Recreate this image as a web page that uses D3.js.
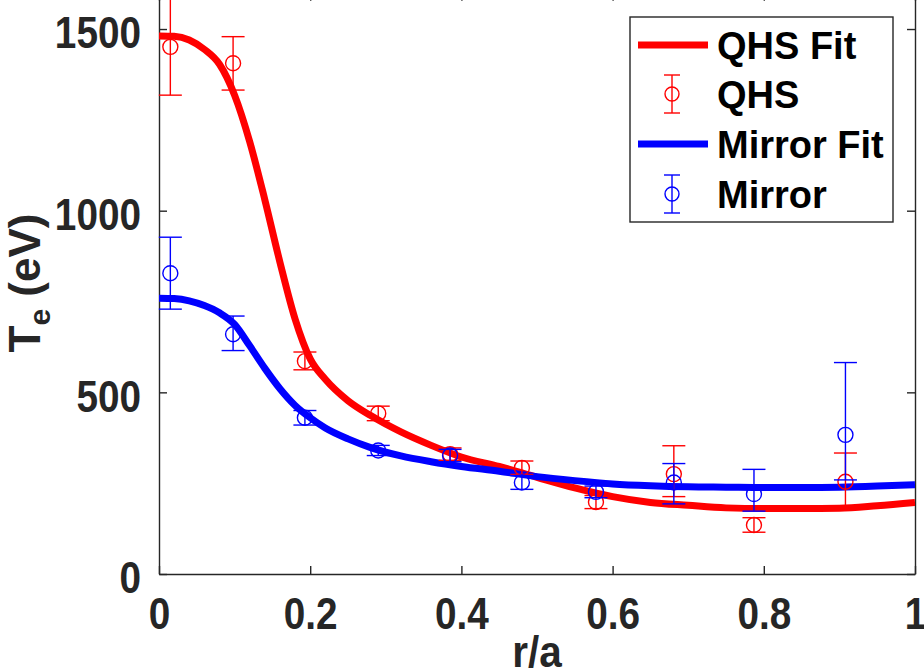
<!DOCTYPE html>
<html>
<head>
<meta charset="utf-8">
<script src="https://cdn.jsdelivr.net/npm/d3@7"></script>
<style>
  html, body { margin: 0; padding: 0; background: #fff; }
  svg { display: block; }
  text { font-family: "Liberation Sans", Arial, Helvetica, sans-serif; font-weight: bold; }
</style>
</head>
<body>
<svg id="chart" width="924" height="671"></svg>
<script>
// ---- data ----
const pointR = [0.015, 0.098, 0.193, 0.29, 0.385, 0.48, 0.578, 0.681, 0.787, 0.908];

const qhsValue = [1451, 1406, 586, 442, 330, 292, 198, 275, 135, 254];
const qhsLow   = [1318, 1332, 562, 422, 313, 274, 180, 213, 115, 178];
const qhsHigh  = [1590, 1479, 611, 462, 347, 311, 216, 353, 155, 333];

const mirrorValue = [828, 660, 430, 340, 326, 252, 226, 252, 220, 383];
const mirrorLow   = [729, 615, 410, 326, 309, 233, 210, 193, 173, 259];
const mirrorHigh  = [927, 710, 450, 354, 343, 271, 242, 304, 288, 582];

const fitR = [0, 0.02, 0.04, 0.06, 0.08, 0.10, 0.12, 0.14, 0.16, 0.18, 0.20, 0.22, 0.25, 0.28,
              0.32, 0.36, 0.40, 0.45, 0.50, 0.55, 0.60, 0.65, 0.70, 0.75, 0.80, 0.85, 0.90, 0.95, 1.0];
const qhsFit = [1481, 1480, 1470, 1444, 1403, 1318, 1190, 1030, 858, 702, 592, 536, 477, 436,
                391, 354, 322, 296, 266, 237, 213, 197, 189, 182, 180, 180, 181, 188, 197];
const mirrorFit = [759, 758, 752, 739, 719, 687, 628, 566, 510, 464, 430, 402, 372, 348,
                   325, 309, 296, 283, 268, 257, 248, 243, 240, 239, 238, 238, 239, 242, 246];

const xTicks = [0, 0.2, 0.4, 0.6, 0.8, 1];
const yTicks = [0, 500, 1000, 1500];
const legendLabels = ["QHS Fit", "QHS", "Mirror Fit", "Mirror"];

// ---- layout ----
const L = 159, R = 915, B = 574, T = -7.3;
const axisColor = "#262626";
const red = "#ff0000", blue = "#0000ff";
const squeeze = 0.88;

const svg = d3.select("#chart");
const x = d3.scaleLinear().domain([0, 1]).range([L, R]);
const y = d3.scaleLinear().domain([0, 1600]).range([B, T]);

svg.append("defs").append("clipPath").attr("id", "plotclip")
  .append("rect").attr("x", L).attr("y", T).attr("width", R - L).attr("height", B - T);

// axes (MATLAB box style, ticks inward)
const gx = svg.append("g").attr("transform", `translate(0,${B})`)
  .call(d3.axisBottom(x).tickValues(xTicks).tickSizeInner(-8).tickSizeOuter(0).tickPadding(24)
        .tickFormat(d => d === 0 ? "0" : d === 1 ? "1" : d3.format(".1f")(d)));
const gxt = svg.append("g").attr("transform", `translate(0,${T})`)
  .call(d3.axisTop(x).tickValues(xTicks).tickSizeInner(-8).tickSizeOuter(0).tickFormat(""));
const gy = svg.append("g").attr("transform", `translate(${L},0)`)
  .call(d3.axisLeft(y).tickValues(yTicks).tickSizeInner(-8).tickSizeOuter(0).tickPadding(18)
        .tickFormat(d3.format("d")));
const gyr = svg.append("g").attr("transform", `translate(${R},0)`)
  .call(d3.axisRight(y).tickValues(yTicks).tickSizeInner(-8).tickSizeOuter(0).tickFormat(""));

[gx, gxt, gy, gyr].forEach(g => {
  g.select(".domain").attr("stroke", axisColor).attr("stroke-width", 1.4);
  g.selectAll(".tick line").attr("stroke", axisColor).attr("stroke-width", 1.4);
  g.selectAll(".tick text").attr("fill", axisColor).attr("font-size", 44)
    .attr("font-family", "'Liberation Sans', Arial, sans-serif").attr("font-weight", "bold");
});
gy.selectAll(".tick text").attr("dy", "0.43em")
  .attr("x", -18 / squeeze).attr("transform", `scale(${squeeze},1)`);
gx.selectAll(".tick text").attr("dy", "0.71em").attr("transform", `scale(${squeeze},1)`);

// axis labels
svg.append("text").attr("transform", `translate(${(L + R) / 2},667) scale(0.92,1)`)
  .attr("text-anchor", "middle").attr("font-size", 44).attr("fill", axisColor).text("r/a");

const yl = svg.append("text").attr("transform", `translate(40,283) rotate(-90)`)
  .attr("text-anchor", "middle").attr("font-size", 44).attr("fill", axisColor);
yl.append("tspan").text("T");
yl.append("tspan").attr("font-size", 30).attr("dy", 10).text("e");
yl.append("tspan").attr("dy", -10).text(" (eV)");

// plot contents
const plot = svg.append("g").attr("clip-path", "url(#plotclip)");
const line = d3.line().x(d => x(d[0])).y(d => y(d[1])).curve(d3.curveMonotoneX);

function drawFit(vals, color) {
  plot.append("path").datum(fitR.map((r, i) => [r, vals[i]]))
    .attr("d", line).attr("fill", "none").attr("stroke", color).attr("stroke-width", 7)
    .attr("stroke-linejoin", "round");
}
function drawErr(vals, lo, hi, color) {
  const g = svg.append("g").attr("stroke", color).attr("fill", "none").attr("stroke-width", 1.4);
  pointR.forEach((r, i) => {
    const cx = x(r), cw = 11.5;
    g.append("line").attr("x1", cx).attr("x2", cx).attr("y1", y(lo[i])).attr("y2", y(hi[i]));
    g.append("line").attr("x1", cx - cw).attr("x2", cx + cw).attr("y1", y(lo[i])).attr("y2", y(lo[i]));
    g.append("line").attr("x1", cx - cw).attr("x2", cx + cw).attr("y1", y(hi[i])).attr("y2", y(hi[i]));
    g.append("circle").attr("cx", cx).attr("cy", y(vals[i])).attr("r", 7.5);
  });
}
drawFit(qhsFit, red);
drawErr(qhsValue, qhsLow, qhsHigh, red);
drawFit(mirrorFit, blue);
drawErr(mirrorValue, mirrorLow, mirrorHigh, blue);

// legend
const lg = svg.append("g");
lg.append("rect").attr("x", 630).attr("y", 17).attr("width", 263).attr("height", 205)
  .attr("fill", "#fff").attr("stroke", axisColor).attr("stroke-width", 1.4);
const rows = [45, 94, 144, 194];
const types = ["line", "err", "line", "err"];
const colors = [red, red, blue, blue];
legendLabels.forEach((lab, i) => {
  const ry = rows[i];
  if (types[i] === "line") {
    lg.append("line").attr("x1", 638).attr("x2", 708).attr("y1", ry).attr("y2", ry)
      .attr("stroke", colors[i]).attr("stroke-width", 7);
  } else {
    const g = lg.append("g").attr("stroke", colors[i]).attr("fill", "none").attr("stroke-width", 1.4);
    g.append("line").attr("x1", 672).attr("x2", 672).attr("y1", ry - 19).attr("y2", ry + 19);
    g.append("line").attr("x1", 664).attr("x2", 680).attr("y1", ry - 19).attr("y2", ry - 19);
    g.append("line").attr("x1", 664).attr("x2", 680).attr("y1", ry + 19).attr("y2", ry + 19);
    g.append("circle").attr("cx", 672).attr("cy", ry).attr("r", 7);
  }
  lg.append("text").attr("x", 717).attr("y", ry + 14).attr("font-size", 38)
    .attr("fill", "#000").text(lab);
});
</script>
</body>
</html>
